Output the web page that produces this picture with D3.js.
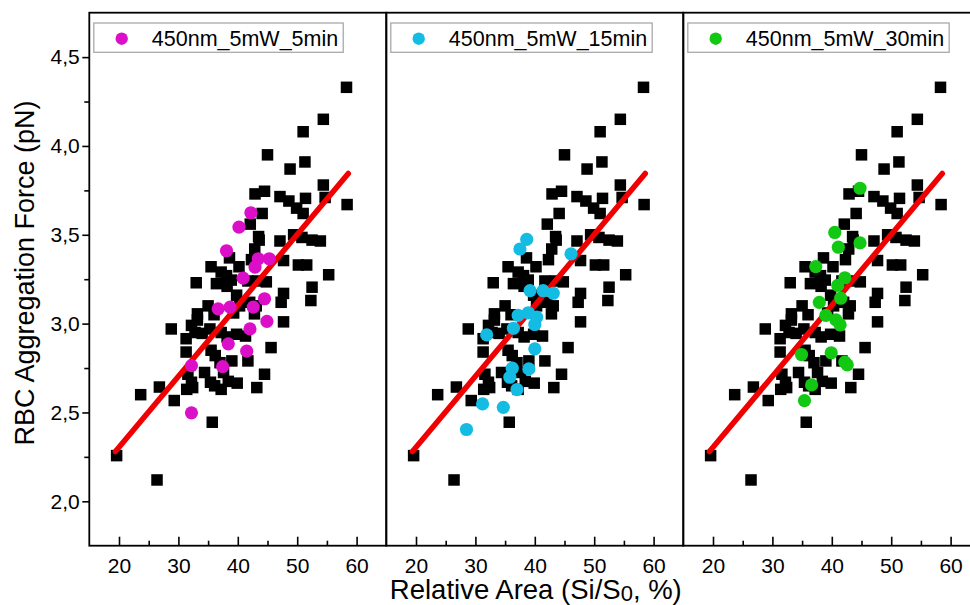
<!DOCTYPE html>
<html>
<head>
<meta charset="utf-8">
<script src="https://cdn.jsdelivr.net/npm/d3@7/dist/d3.min.js"></script>
<style>
  body { margin: 0; background: #fff; }
  text { font-family: Arial, "Liberation Sans", sans-serif; fill: #000; }
</style>
</head>
<body>
<div id="chart"></div>
<script>
// ---------------- data ----------------
// black squares: whole data set (same in every panel)
var areaX = [58.3, 54.4, 51.0, 45.0, 51.3, 48.8, 54.4, 58.4,
  42.9, 44.5, 47.1, 48.6, 51.4, 54.7, 49.9, 51.0, 44.1,
  42.1, 43.5, 43.6, 47.1, 49.4, 50.8, 52.5, 53.9,
  47.7, 50.2, 51.6, 55.3, 52.5, 52.3, 47.7, 47.3, 47.7,
  45.6, 44.5, 43.2,
  42.85, 42.3, 38.6, 35.5, 37.2, 38.1, 38.9, 33.0, 36.4, 38.2,
  41.7, 43.4, 44.8, 42.0, 43.1, 42.8, 35.0, 33.2, 33.2,
  28.8, 32.2, 32.8, 34.0, 31.3, 37.2, 38.2, 39.8, 41.3,
  31.3, 35.5, 36.2, 37.0, 41.7, 39.0,
  31.6, 32.2, 31.4, 32.4, 34.4, 37.6, 38.4, 39.9, 36.1, 37.2, 35.4,
  26.8, 29.3, 35.7, 23.65, 19.6, 26.4,
  39.3, 40.3, 36.0, 40.2, 39.8, 35.3];
var forceY = [4.33, 4.15, 4.08, 3.95, 3.91, 3.87, 3.78, 3.67,
  3.73, 3.745, 3.715, 3.69, 3.705, 3.71, 3.65, 3.62, 3.62,
  3.56, 3.49, 3.47, 3.465, 3.50, 3.485, 3.47, 3.465,
  3.355, 3.33, 3.33, 3.275, 3.205, 3.13, 3.17, 3.12, 3.01,
  2.865, 2.715, 2.64,
  3.42, 3.36, 3.37, 3.32, 3.29, 3.27, 3.245, 3.23, 3.225, 3.21,
  3.24, 3.24, 3.235, 3.12, 3.10, 3.055, 3.10, 3.055, 3.02,
  2.97, 2.99, 2.95, 2.945, 2.915, 2.95, 2.925, 2.94, 2.93,
  2.84, 2.85, 2.82, 2.78, 2.79, 2.79,
  2.715, 2.67, 2.63, 2.64, 2.725, 2.725, 2.675, 2.665, 2.65, 2.63, 2.67,
  2.643, 2.567, 2.445, 2.60, 2.257, 2.12,
  3.06, 3.10, 3.05, 3.32, 3.16, 2.97];

// linear fit (red line)
var fitX = [19.4, 58.6];
var fitY = [2.28, 3.845];

// coloured groups
var dose5X = [42.2, 40.2, 38.1, 43.45, 45.3, 42.9, 40.9, 44.5, 36.7, 38.7, 42.6, 44.9, 42.05, 38.4, 41.5, 32.2, 37.45, 32.2];
var dose5Y = [3.624, 3.543, 3.41, 3.365, 3.365, 3.318, 3.256, 3.14, 3.083, 3.093, 3.093, 3.013, 2.97, 2.886, 2.845, 2.764, 2.758, 2.498];

var dose15X = [38.64, 37.5, 46.1, 39.2, 41.4, 43.1, 37.2, 38.9, 40.3, 40.0, 36.4, 31.9, 40.0, 36.2, 39.0, 35.8, 37.0, 31.2, 34.7, 28.5];
var dose15Y = [3.474, 3.42, 3.393, 3.186, 3.186, 3.171, 3.046, 3.061, 3.036, 2.995, 2.974, 2.937, 2.858, 2.749, 2.745, 2.698, 2.629, 2.548, 2.529, 2.404];

var dose30X = [44.75, 40.5, 44.75, 41.1, 37.3, 42.2, 41.0, 41.5, 37.9, 39.0, 40.7, 41.4, 34.9, 39.9, 42.2, 42.6, 36.6, 35.4];
var dose30Y = [3.762, 3.513, 3.454, 3.43, 3.321, 3.258, 3.215, 3.143, 3.12, 3.046, 3.021, 2.993, 2.826, 2.836, 2.783, 2.768, 2.655, 2.567];

var legendLabels = ["450nm_5mW_5min", "450nm_5mW_15min", "450nm_5mW_30min"];
var groupColors = ["#dc0fc8", "#14bce3", "#13c813"];

var xTicks = [20, 30, 40, 50, 60];
var xMinor = [25, 35, 45, 55];
var yTicks = [2.0, 2.5, 3.0, 3.5, 4.0, 4.5];
var yMinor = [2.25, 2.75, 3.25, 3.75, 4.25];

var xTitle = "Relative Area (Si/S";
var yTitle = "RBC Aggregation Force (pN)";

// ---------------- layout ----------------
var W = 970, H = 605;
var marginLeft = 89.3, marginTop = 12.7, panelW = 297, panelH = 533;
var tickFont = 21;

var svg = d3.select("#chart").append("svg")
  .attr("width", W).attr("height", H);

var x = d3.scaleLinear().domain([15, 65]).range([0, panelW]);
var y = d3.scaleLinear().domain([1.75, 4.75]).range([panelH, 0]);

var squares = areaX.map(function(d, i) { return {x: d, y: forceY[i]}; });
var groups = [
  dose5X.map(function(d, i) { return {x: d, y: dose5Y[i]}; }),
  dose15X.map(function(d, i) { return {x: d, y: dose15Y[i]}; }),
  dose30X.map(function(d, i) { return {x: d, y: dose30Y[i]}; })
];
var fit = fitX.map(function(d, i) { return {x: d, y: fitY[i]}; });
var comma = function(d) { return d3.format(".1f")(d).replace(".", ","); };

groups.forEach(function(pts, p) {
  var g = svg.append("g")
    .attr("transform", "translate(" + (marginLeft + p * panelW) + "," + marginTop + ")");

  // x axis ticks (inward) + labels
  var xa = g.append("g").attr("transform", "translate(0," + panelH + ")")
    .call(d3.axisBottom(x).tickValues(xTicks).tickSize(-9).tickPadding(12.5).tickFormat(d3.format("d")));
  var xm = g.append("g").attr("transform", "translate(0," + panelH + ")")
    .call(d3.axisBottom(x).tickValues(xMinor).tickSize(-5).tickFormat(""));
  [xa, xm].forEach(function(a) {
    a.select(".domain").remove();
    a.selectAll("line").attr("stroke", "#000").attr("stroke-width", 1.6);
  });
  xa.selectAll("text").attr("font-size", tickFont).style("font-family", "Arial, 'Liberation Sans', sans-serif");

  // y axis only on the first panel
  if (p === 0) {
    var ya = g.append("g")
      .call(d3.axisLeft(y).tickValues(yTicks).tickSize(7).tickPadding(2.5).tickFormat(comma));
    var ym = g.append("g")
      .call(d3.axisLeft(y).tickValues(yMinor).tickSize(5).tickFormat(""));
    [ya, ym].forEach(function(a) {
      a.select(".domain").remove();
      a.selectAll("line").attr("stroke", "#000").attr("stroke-width", 1.6);
    });
    ya.selectAll("text").attr("font-size", tickFont).style("font-family", "Arial, 'Liberation Sans', sans-serif");
  }

  // black squares
  var s = 11.5;
  g.selectAll("rect.pt").data(squares).enter().append("rect")
    .attr("class", "pt")
    .attr("x", function(d) { return x(d.x) - s / 2; })
    .attr("y", function(d) { return y(d.y) - s / 2; })
    .attr("width", s).attr("height", s)
    .attr("fill", "#000");

  // fit line
  g.append("path").datum(fit)
    .attr("d", d3.line().x(function(d) { return x(d.x); }).y(function(d) { return y(d.y); }))
    .attr("stroke", "#f00000").attr("stroke-width", 5.5)
    .attr("stroke-linecap", "round").attr("fill", "none");

  // coloured circles
  g.selectAll("circle.dot").data(pts).enter().append("circle")
    .attr("class", "dot")
    .attr("cx", function(d) { return x(d.x); })
    .attr("cy", function(d) { return y(d.y); })
    .attr("r", 6.6)
    .attr("fill", groupColors[p]);

  // frame
  g.append("rect")
    .attr("width", panelW).attr("height", panelH)
    .attr("fill", "none").attr("stroke", "#000").attr("stroke-width", 1.8);

  // legend
  var lg = g.append("g");
  var box = lg.append("rect")
    .attr("x", 4.5).attr("y", 10.3).attr("height", 29.3)
    .attr("fill", "#fff").attr("stroke", "#a9a9a9").attr("stroke-width", 1.3);
  lg.append("circle").attr("cx", 32.4).attr("cy", 26).attr("r", 6.2).attr("fill", groupColors[p]);
  var lt = lg.append("text").attr("x", 62.5).attr("y", 33.6)
    .attr("font-size", 21.5).text(legendLabels[p]);
  box.attr("width", 62.5 + lt.node().getComputedTextLength() + 5 - 4.5);
});

// axis titles
var xt = svg.append("text")
  .attr("x", marginLeft + panelW * 1.5 + 1).attr("y", 598.5)
  .attr("text-anchor", "middle").attr("font-size", 27.5)
  .text(xTitle);
xt.append("tspan").attr("font-size", 22).attr("dy", 2).text("0");
xt.append("tspan").attr("dy", -2).text(", %)");

svg.append("text")
  .attr("transform", "translate(34,273) rotate(-90)")
  .attr("text-anchor", "middle").attr("font-size", 27)
  .text(yTitle);
</script>
</body>
</html>
